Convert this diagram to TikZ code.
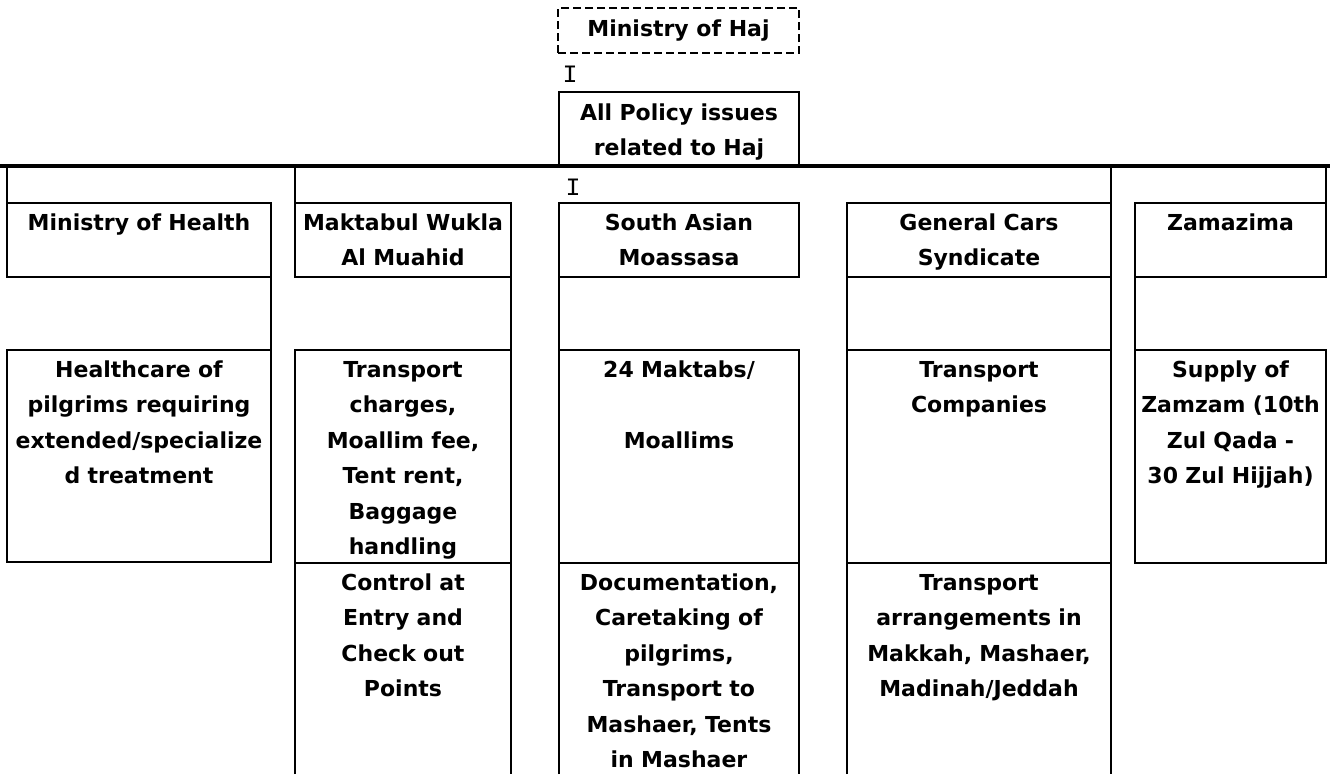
\documentclass[tikz,border=0pt]{standalone}
\usepackage{fontspec}
\setmainfont{DejaVu Sans}
\newfontfamily\tickfont{Liberation Mono}
\usetikzlibrary{positioning}

\begin{document}
\begin{tikzpicture}[
        x=1pt, y=-1pt,
        node distance=0pt,
        box/.style={rectangle, draw, line width=2.3pt, inner sep=0pt, outer sep=0pt, minimum height=74pt},
        open/.style={rectangle, inner sep=0pt, outer sep=0pt},
        txt/.style={inner sep=0pt, text width=260pt, align=center, font=\bfseries\fontsize{22}{35.5}\selectfont, execute at begin node=\strut},
        tick/.style={inner sep=0pt, font=\tickfont\fontsize{25}{25}\selectfont},
        wire/.style={line width=2.3pt},
        bus/.style={line width=4pt}
    ]
        \useasboundingbox (0,0) rectangle (1330,774);

        % Ministry
        \node[box, dash pattern=on 8pt off 4pt, minimum width=241pt, minimum height=45pt, font=\bfseries\fontsize{22}{26}\selectfont] (haj) at (678.5,30.5) {Ministry of Haj};
        \node[tick] (tick1) at (570,74) {I};
        \node[box, minimum width=240pt] (policy) at (679,129) {};
        \node[txt, below=3pt of policy.north] (policyt) {All Policy issues\\related to Haj};

        % Bus
        \coordinate (busw) at (0,166);
        \coordinate (buse) at (1330,166);
        \draw[bus] (busw) -- (buse);
        \node[tick] (tick2) at (573,187) {I};

        % Heads
        \node[box, minimum width=264pt] (moh) at (139,240) {};
        \node[box, minimum width=216pt, right=24pt of moh] (wukla) {};
        \node[box, minimum width=240pt, right=48pt of wukla] (moassasa) {};
        \node[box, minimum width=264pt, right=48pt of moassasa] (cars) {};
        \node[box, minimum width=191pt, right=24pt of cars] (zamazima) {};

        % Duties
        \node[box, minimum width=264pt, minimum height=212pt, below=73pt of moh] (care) {};
        \node[box, minimum width=216pt, minimum height=213pt, below=73pt of wukla] (charges) {};
        \node[box, minimum width=240pt, minimum height=213pt, below=73pt of moassasa] (maktabs) {};
        \node[box, minimum width=264pt, minimum height=213pt, below=73pt of cars] (companies) {};
        \node[box, minimum width=191pt, minimum height=213pt, below=73pt of zamazima] (zamzam) {};

        % Open cells
        \node[open, minimum width=216pt, minimum height=211pt, below=of charges] (control) {};
        \node[open, minimum width=240pt, minimum height=211pt, below=of maktabs] (caretaking) {};
        \node[open, minimum width=264pt, minimum height=211pt, below=of companies] (arrange) {};

        % Texts
        \node[txt, below=2pt of moh.north] (moht) {Ministry of Health};
        \node[txt, below=2pt of wukla.north] (wuklat) {Maktabul Wukla\\Al Muahid};
        \node[txt, below=2pt of moassasa.north] (moassasat) {South Asian\\Moassasa};
        \node[txt, below=2pt of cars.north] (carst) {General Cars\\Syndicate};
        \node[txt, below=2pt of zamazima.north] (zamazimat) {Zamazima};
        \node[txt, below=2pt of care.north] (caret) {Healthcare of\\pilgrims requiring\\extended/specialize\\d treatment};
        \node[txt, below=2pt of charges.north] (chargest) {Transport\\charges,\\Moallim fee,\\Tent rent,\\Baggage\\handling};
        \node[txt, below=2pt of maktabs.north] (maktabst) {24 Maktabs/\\\mbox{}\\Moallims};
        \node[txt, below=2pt of companies.north] (companiest) {Transport\\Companies};
        \node[txt, below=2pt of zamzam.north] (zamzamt) {Supply of\\Zamzam (10th\\Zul Qada -\\30 Zul Hijjah)};
        \node[txt, below=2pt of control.north] (controlt) {Control at\\Entry and\\Check out\\Points};
        \node[txt, below=2pt of caretaking.north] (caretakingt) {Documentation,\\Caretaking of\\pilgrims,\\Transport to\\Mashaer, Tents\\in Mashaer};
        \node[txt, below=2pt of arrange.north] (arranget) {Transport\\arrangements in\\Makkah, Mashaer,\\Madinah/Jeddah};

        % Links
        \draw[wire] (moh.north west) -- (moh.north west |- busw);
        \draw[wire] (wukla.north west) -- (wukla.north west |- busw);
        \draw[wire] (cars.north east) -- (cars.north east |- busw);
        \draw[wire] (zamazima.north east) -- (zamazima.north east |- busw);
        \draw[wire] (moh.south east) -- (care.north east);
        \draw[wire] (wukla.south east) -- (charges.north east);
        \draw[wire] (moassasa.south west) -- (maktabs.north west);
        \draw[wire] (cars.south west) -- (companies.north west);
        \draw[wire] (cars.south east) -- (companies.north east);
        \draw[wire] (zamazima.south west) -- (zamzam.north west);
        \draw[wire] (control.south west) -- (control.north west) (control.north east) -- (control.south east);
        \draw[wire] (caretaking.south west) -- (caretaking.north west) (caretaking.north east) -- (caretaking.south east);
        \draw[wire] (arrange.south west) -- (arrange.north west) (arrange.north east) -- (arrange.south east);
    \end{tikzpicture}
\end{document}
